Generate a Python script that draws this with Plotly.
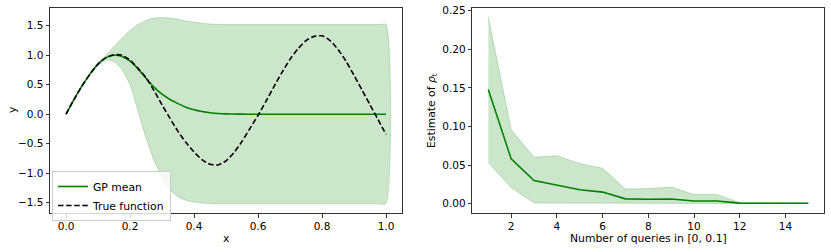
import plotly.graph_objects as go

# ---------------- Left panel data ----------------
x_left = [0.000, 0.025, 0.050, 0.075, 0.100, 0.125, 0.150, 0.175, 0.200, 0.225,
          0.250, 0.275, 0.300, 0.325, 0.350, 0.375, 0.400, 0.425, 0.450, 0.475,
          0.500, 0.525, 0.550, 0.575, 0.600, 0.625, 0.650, 0.675, 0.700, 0.725,
          0.750, 0.775, 0.800, 0.825, 0.850, 0.875, 0.900, 0.925, 0.950, 0.975,
          1.000]
true_function = [0.00, 0.25, 0.48, 0.68, 0.85, 0.96, 1.01, 1.00, 0.92, 0.78,
                 0.62, 0.40, 0.16, -0.07, -0.29, -0.48, -0.64, -0.77, -0.85, -0.86,
                 -0.79, -0.65, -0.46, -0.24, -0.02, 0.22, 0.47, 0.71, 0.93, 1.11,
                 1.25, 1.32, 1.33, 1.25, 1.10, 0.90, 0.66, 0.41, 0.16, -0.09,
                 -0.34]
gp_mean = [0.00, 0.25, 0.48, 0.68, 0.85, 0.96, 1.00, 0.98, 0.90, 0.77,
           0.61, 0.46, 0.34, 0.25, 0.18, 0.12, 0.075, 0.045, 0.025, 0.012,
           0.006, 0.003, 0.001, 0.0, 0.0, 0.0, 0.0, 0.0, 0.0, 0.0,
           0.0, 0.0, 0.0, 0.0, 0.0, 0.0, 0.0, 0.0, 0.0, 0.0,
           0.0]
gp_upper = [0.00, 0.25, 0.48, 0.69, 0.87, 1.00, 1.15, 1.29, 1.42, 1.52,
            1.59, 1.63, 1.64, 1.63, 1.61, 1.58, 1.56, 1.545, 1.53, 1.525,
            1.52, 1.52, 1.52, 1.52, 1.52, 1.52, 1.52, 1.52, 1.52, 1.52,
            1.52, 1.52, 1.52, 1.52, 1.52, 1.52, 1.52, 1.52, 1.52, 1.52,
            1.52]
gp_lower = [0.00, 0.25, 0.48, 0.67, 0.83, 0.92, 0.89, 0.76, 0.50, 0.06,
            -0.40, -0.78, -1.06, -1.28, -1.40, -1.46, -1.49, -1.505, -1.515, -1.52,
            -1.52, -1.52, -1.52, -1.52, -1.52, -1.52, -1.52, -1.52, -1.52, -1.52,
            -1.52, -1.52, -1.52, -1.52, -1.52, -1.52, -1.52, -1.52, -1.52, -1.52,
            -1.52]

# ---------------- Right panel data ----------------
n_queries = [1, 2, 3, 4, 5, 6, 7, 8, 9, 10, 11, 12, 13, 14, 15]
rho_mean = [0.148, 0.058, 0.030, 0.024, 0.018, 0.015, 0.0062, 0.0058, 0.006, 0.0035,
            0.0035, 0.0007, 0.0008, 0.0006, 0.0006]
rho_upper = [0.242, 0.096, 0.060, 0.062, 0.052, 0.046, 0.019, 0.0195, 0.0215, 0.0118,
             0.012, 0.0012, 0.0012, 0.0010, 0.0010]
rho_lower = [0.053, 0.021, 0.0008, 0.0003, 0.0002, 0.0002, 0.0001, 0.0001, 0.0001, 0.0,
             0.0, 0.0, 0.0, 0.0, 0.0]

left_xticks = [0.0, 0.2, 0.4, 0.6, 0.8, 1.0]
left_yticks = [-1.5, -1.0, -0.5, 0.0, 0.5, 1.0, 1.5]
right_xticks = [2, 4, 6, 8, 10, 12, 14]
right_yticks = [0.00, 0.05, 0.10, 0.15, 0.20, 0.25]

GREEN = "#008000"
FILL = "rgba(0,128,0,0.2)"
FONT = "DejaVu Sans"

fig = go.Figure()

# Left: confidence band
fig.add_trace(go.Scatter(
    x=x_left + x_left[::-1], y=gp_upper + gp_lower[::-1],
    fill="toself", fillcolor=FILL, mode="lines",
    line=dict(color="rgba(0,128,0,0.2)", width=1, shape="spline", smoothing=0.6),
    showlegend=False, hoverinfo="skip", xaxis="x", yaxis="y"))
fig.add_trace(go.Scatter(
    x=x_left, y=gp_mean, mode="lines", name="GP mean",
    line=dict(color=GREEN, width=1.6, shape="spline", smoothing=0.6),
    xaxis="x", yaxis="y"))
fig.add_trace(go.Scatter(
    x=x_left, y=true_function, mode="lines", name="True function",
    line=dict(color="black", width=1.6, dash="5.5px,2.6px", shape="spline", smoothing=0.6),
    xaxis="x", yaxis="y"))

# Right: band + mean
fig.add_trace(go.Scatter(
    x=n_queries + n_queries[::-1], y=rho_upper + rho_lower[::-1],
    fill="toself", fillcolor=FILL, mode="lines",
    line=dict(color="rgba(0,128,0,0.2)", width=1),
    showlegend=False, hoverinfo="skip", xaxis="x2", yaxis="y2"))
fig.add_trace(go.Scatter(
    x=n_queries, y=rho_mean, mode="lines", showlegend=False,
    line=dict(color=GREEN, width=1.6), xaxis="x2", yaxis="y2"))

W, H = 831, 252
axis_common = dict(showline=True, mirror=True, linecolor="#333333", linewidth=1,
                   ticks="outside", ticklen=3.5, tickwidth=1, tickcolor="#333333",
                   showgrid=False, zeroline=False, automargin=False,
                   tickfont=dict(family=FONT, size=10.5, color="black"))

title_font = dict(family=FONT, size=10.8, color="black")
annotations = [
    dict(text="x", x=226 / W, y=1 - 238 / H, xref="paper", yref="paper",
         xanchor="center", yanchor="middle", showarrow=False, font=title_font),
    dict(text="Number of queries in [0, 0.1]", x=648 / W, y=1 - 238 / H,
         xref="paper", yref="paper", xanchor="center", yanchor="middle",
         showarrow=False, font=title_font),
    dict(text="y", x=12 / W, y=1 - 110 / H, xref="paper", yref="paper",
         xanchor="center", yanchor="middle", textangle=-90, showarrow=False,
         font=title_font),
    dict(text="Estimate of <i>ρ</i><sub>t</sub>", x=432 / W, y=1 - 110 / H,
         xref="paper", yref="paper", xanchor="center", yanchor="middle",
         textangle=-90, showarrow=False, font=title_font),
]

fig.update_layout(
    width=W, height=H,
    margin=dict(l=0, r=0, t=0, b=0, pad=0),
    paper_bgcolor="white", plot_bgcolor="white",
    font=dict(family=FONT, size=10.8, color="black"),
    xaxis=dict(domain=[50 / W, 402 / W], range=[-0.05, 1.05],
               tickvals=left_xticks, tickformat=".1f", anchor="y", **axis_common),
    yaxis=dict(domain=[1 - 213 / H, 1 - 7.5 / H], range=[-1.675, 1.81],
               tickvals=left_yticks, tickformat=".1f", anchor="x", **axis_common),
    xaxis2=dict(domain=[472.3 / W, 824.3 / W], range=[0.3, 15.7],
                tickvals=right_xticks, anchor="y2", **axis_common),
    yaxis2=dict(domain=[1 - 213 / H, 1 - 7.5 / H], range=[-0.0121, 0.2541],
                tickvals=right_yticks, tickformat=".2f", anchor="x2", **axis_common),
    legend=dict(x=52 / W, y=1 - 171 / H, xanchor="left", yanchor="top",
                bgcolor="rgba(255,255,255,0.8)", bordercolor="#cccccc", borderwidth=1,
                font=dict(family=FONT, size=10.8, color="black"),
                itemwidth=30, tracegroupgap=0),
    showlegend=True,
    annotations=annotations,
)

fig.write_html("out.html", config={"displayModeBar": False},
               post_script="document.body.style.margin='0';document.body.style.overflow='hidden';")
